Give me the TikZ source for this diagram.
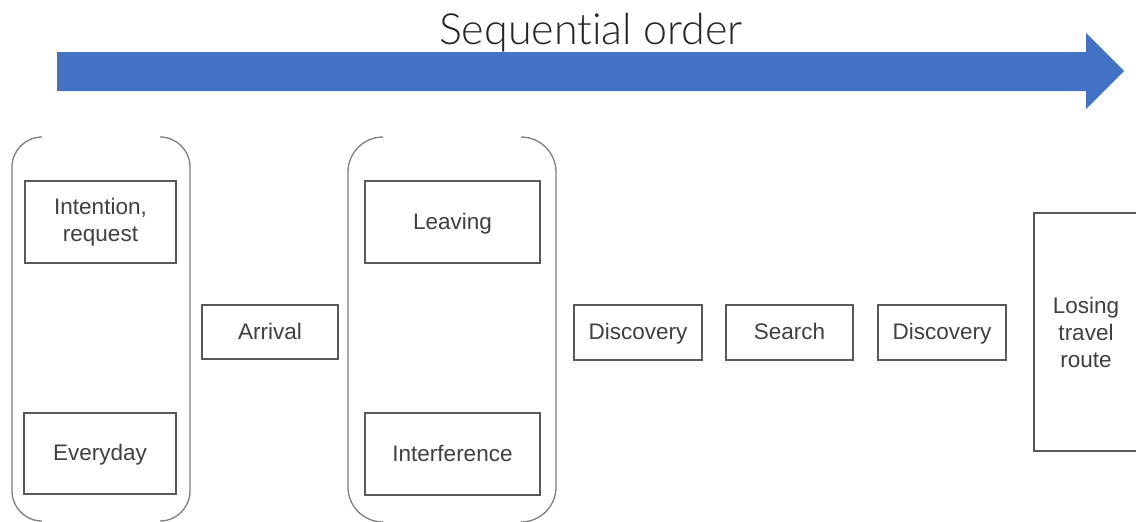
\documentclass[tikz,border=0pt]{standalone}
\usepackage{fontspec}
\setmainfont{Liberation Sans}
\newfontfamily\titlefont[Ligatures=NoCommon]{Lato Light}
\begin{document}
\begin{tikzpicture}[x=1pt,y=-1pt,
  box/.style={draw=boxgray, line width=1.1pt, text=textgray, align=center,
    inner sep=0pt, font=\fontsize{22.5}{27}\selectfont},
  one/.style={text height=17pt, text depth=3pt},
  brk/.style={draw=brkgray, line width=1.3pt},
]
\definecolor{boxgray}{HTML}{595959}
\definecolor{brkgray}{HTML}{7F7F7F}
\definecolor{textgray}{HTML}{404040}
\definecolor{arrowblue}{HTML}{4472C4}
\useasboundingbox (0,0) rectangle (1136,522);
\fill[white] (0,0) rectangle (1136,522);

% big arrow
\fill[arrowblue] (57,52) -- (1086,52) -- (1086,33) -- (1124,71) -- (1086,109) -- (1086,91) -- (57,91) -- cycle;
\node[anchor=base, text=black!85, font=\titlefont\fontsize{43}{50}\selectfont] (title) at (591,45) {Sequential order};

% brackets
\draw[brk, rounded corners=30pt] (42,137) -- (12,137) -- (12,521) -- (42,521);
\draw[brk, rounded corners=30pt] (160,137) -- (190,137) -- (190,521) -- (160,521);
\draw[brk, rounded corners=35pt] (383,137) -- (348,137) -- (348,522) -- (383,522);
\draw[brk, rounded corners=35pt] (521,137) -- (556,137) -- (556,522) -- (521,522);

% boxes
\node[box, minimum width=151pt, minimum height=82pt] (intent) at (100.5,222) {Intention,\\request};
\node[box, one, minimum width=152pt, minimum height=81pt] (everyday) at (100,453.5) {Everyday};
\node[box, one, minimum width=136pt, minimum height=54pt] (arrival) at (270,332) {Arrival};
\node[box, one, minimum width=175pt, minimum height=82pt] (leaving) at (452.5,222) {Leaving};
\node[box, one, minimum width=175pt, minimum height=82pt] (interf) at (452.5,454) {Interference};
\node[box, one, minimum width=128pt, minimum height=55pt] (disc1) at (638,332.5) {Discovery};
\node[box, one, minimum width=127pt, minimum height=55pt] (search) at (789.5,332.5) {Search};
\node[box, one, minimum width=128pt, minimum height=55pt] (disc2) at (942,332.5) {Discovery};
\node[box, minimum width=104pt, minimum height=238pt] (losing) at (1086,332) {Losing\\travel\\route};
\end{tikzpicture}
\end{document}
